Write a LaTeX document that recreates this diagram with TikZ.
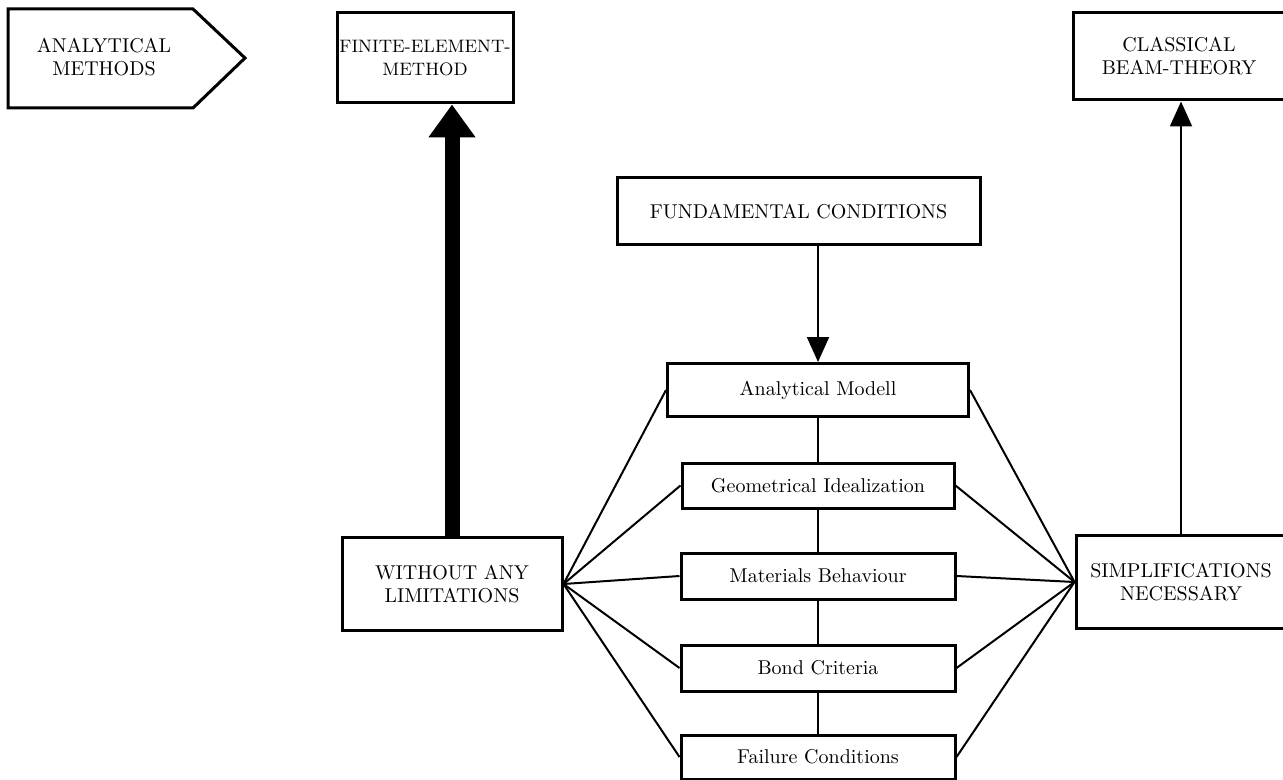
\documentclass[tikz,border=0pt]{standalone}
\usetikzlibrary{arrows.meta}

\tikzset{
  frame/.style={draw, line width=1.5pt, inner sep=0pt, align=center},
  link/.style={line width=1pt},
}

\begin{document}
\begin{tikzpicture}[x=0.5pt, y=-0.5pt, font=\fontsize{10}{11.5}\selectfont]
  \useasboundingbox (0, 0) rectangle (1283, 780);

  % headline arrow box
  \draw[line width=1.5pt, line join=miter] (8, 9)--(193, 9)--(245, 58)--(193, 108)--(8, 108)--cycle;
  \node[align=center] (methods) at (104, 57) {ANALYTICAL\\METHODS};

  % result boxes
  \node[frame, minimum width=88pt, minimum height=45pt, font=\fontsize{9}{11.5}\selectfont] (fem) at (425, 58) {FINITE-ELEMENT-\\METHOD};
  \node[frame, minimum width=106pt, minimum height=43.5pt] (beam) at (1179, 56.5) {CLASSICAL\\BEAM-THEORY};

  \node[frame, minimum width=181.5pt, minimum height=33.5pt] (fund) at (798.5, 211.5) {FUNDAMENTAL CONDITIONS};

  % central chain
  \node[frame, minimum width=150.5pt, minimum height=26.5pt] (model) at (818, 390) {Analytical Modell};
  \node[frame, minimum width=136pt, minimum height=22.5pt] (geom) at (818, 485.5) {Geometrical Idealization};
  \node[frame, minimum width=137pt, minimum height=23pt] (mat) at (818, 576) {Materials Behaviour};
  \node[frame, minimum width=137pt, minimum height=23pt] (bond) at (818, 668) {Bond Criteria};
  \node[frame, minimum width=137pt, minimum height=22pt] (fail) at (818, 757) {Failure Conditions};

  \node[frame, minimum width=110pt, minimum height=46.5pt] (without) at (452, 584) {WITHOUT ANY\\LIMITATIONS};
  \node[frame, minimum width=105pt, minimum height=46.5pt] (simpl) at (1181, 582) {SIMPLIFICATIONS\\NECESSARY};

  \draw[link] (model)--(geom);
  \draw[link] (geom)--(mat);
  \draw[link] (mat)--(bond);
  \draw[link] (bond)--(fail);

  \foreach \b in {model, geom, mat, bond, fail} {
    \draw[link] (without.east)--(\b.west);
    \draw[link] (simpl.west)--(\b.east);
  }

  \draw[line width=1pt, -{Triangle[width=11pt, length=12.5pt]}] (model.north |- fund.south)--(model.north);
  \draw[line width=1pt, -{Triangle[width=11pt, length=12.5pt]}] (simpl.north)--(simpl.north |- beam.south);
  \draw[line width=7.5pt, -{Triangle[width=22.5pt, length=16.5pt]}] (without.north)--(without.north |- fem.south);
\end{tikzpicture}
\end{document}
